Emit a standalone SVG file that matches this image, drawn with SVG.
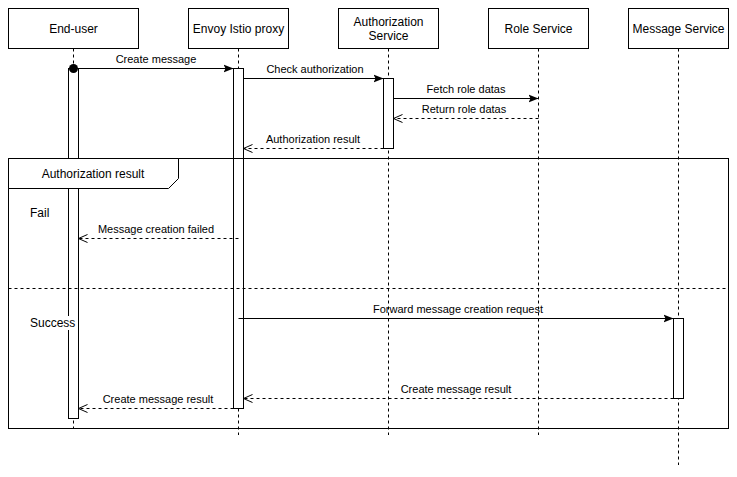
<svg xmlns="http://www.w3.org/2000/svg" width="737" height="477" viewBox="0 0 737 477">
<defs>
<marker id="fill" viewBox="0 0 10 10" refX="10" refY="5" markerWidth="10" markerHeight="10" markerUnits="userSpaceOnUse" orient="auto">
<path d="M0,1 L10,5 L0,9 L2,5 Z" fill="#000"/>
</marker>
<marker id="open" viewBox="0 0 10 10" refX="10" refY="5" markerWidth="10" markerHeight="10" markerUnits="userSpaceOnUse" orient="auto">
<path d="M1,1 L10,5 L1,9" fill="none" stroke="#000" stroke-width="1"/>
</marker>
<marker id="dot" viewBox="0 0 10 10" refX="5" refY="5" markerWidth="10" markerHeight="10" markerUnits="userSpaceOnUse">
<circle cx="5" cy="5" r="4.5" fill="#000"/>
</marker>
</defs>
<style>
text{font-family:"Liberation Sans",Arial,sans-serif;fill:#000}
.p{font-size:12px;text-anchor:middle}
.m{font-size:11px;text-anchor:middle}
.box{fill:#fff;stroke:#000;stroke-width:1}
.life{stroke:#000;stroke-width:1;stroke-dasharray:3,3;fill:none}
.act{fill:#fff;stroke:#000;stroke-width:1}
.sync{stroke:#000;stroke-width:1;fill:none;marker-end:url(#fill)}
.ret{stroke:#000;stroke-width:1;stroke-dasharray:3,3;fill:none;marker-end:url(#open)}
</style>
<rect width="737" height="477" fill="#fff"/>
<g id="lifelines">
<line class="life" x1="73.5" y1="48.5" x2="73.5" y2="428"/>
<line class="life" x1="238.5" y1="48.5" x2="238.5" y2="435"/>
<line class="life" x1="388.5" y1="48.5" x2="388.5" y2="435"/>
<line class="life" x1="538.5" y1="48.5" x2="538.5" y2="435"/>
<line class="life" x1="678.5" y1="48.5" x2="678.5" y2="465"/>
</g>
<g id="activations">
<rect class="act" x="68.5" y="68.5" width="10" height="350"/>
<rect class="act" x="233.5" y="68.5" width="10" height="340"/>
<rect class="act" x="383.5" y="78.5" width="10" height="70"/>
<rect class="act" x="673.5" y="318.5" width="10" height="80"/>
</g>
<g id="frame">
<rect x="8.5" y="158.5" width="720" height="270" fill="none" stroke="#000"/>
<path d="M8.5,158.5 H178.5 V178.5 L168.5,188.5 H8.5 Z" fill="#fff" stroke="#000"/>
<text class="p" x="93" y="178">Authorization result</text>
<line x1="8.5" y1="288.5" x2="728.5" y2="288.5" stroke="#000" stroke-dasharray="3,3"/>
<text x="30" y="217" style="font-size:12px">Fail</text>
<rect x="29" y="316" width="46" height="14" fill="#fff"/>
<text x="30" y="327" style="font-size:12px">Success</text>
</g>
<g id="node-enduser"><rect class="box" x="8.5" y="8.5" width="130" height="40"/><text class="p" x="73.5" y="33">End-user</text></g>
<g id="node-envoy"><rect class="box" x="188.5" y="8.5" width="100" height="40"/><text class="p" x="238.5" y="33">Envoy Istio proxy</text></g>
<g id="node-auth"><rect class="box" x="338.5" y="8.5" width="100" height="40"/><text class="p" x="388.5" y="26">Authorization</text><text class="p" x="388.5" y="40">Service</text></g>
<g id="node-role"><rect class="box" x="488.5" y="8.5" width="100" height="40"/><text class="p" x="538.5" y="33">Role Service</text></g>
<g id="node-message"><rect class="box" x="628.5" y="8.5" width="100" height="40"/><text class="p" x="678.5" y="33">Message Service</text></g>
<g id="connectors">
<line x1="73.5" y1="68.5" x2="233.5" y2="68.5" class="sync" style="marker-start:url(#dot)"/>
<text class="m" x="156" y="63">Create message</text>
<line x1="243.5" y1="78.5" x2="383.5" y2="78.5" class="sync"/>
<text class="m" x="315" y="73">Check authorization</text>
<line x1="393.5" y1="98.5" x2="538.5" y2="98.5" class="sync"/>
<text class="m" x="466" y="93">Fetch role datas</text>
<line x1="538.5" y1="118.5" x2="393.5" y2="118.5" class="ret"/>
<text class="m" x="464" y="113">Return role datas</text>
<line x1="383.5" y1="148.5" x2="243.5" y2="148.5" class="ret"/>
<text class="m" x="313" y="143">Authorization result</text>
<line x1="238.5" y1="238.5" x2="78.5" y2="238.5" class="ret"/>
<text class="m" x="156" y="233">Message creation failed</text>
<line x1="238.5" y1="318.5" x2="673.5" y2="318.5" class="sync"/>
<text class="m" x="458" y="313">Forward message creation request</text>
<line x1="673.5" y1="398.5" x2="243.5" y2="398.5" class="ret"/>
<text class="m" x="456" y="393">Create message result</text>
<line x1="233.5" y1="408.5" x2="78.5" y2="408.5" class="ret"/>
<text class="m" x="158" y="403">Create message result</text>
</g>
</svg>
